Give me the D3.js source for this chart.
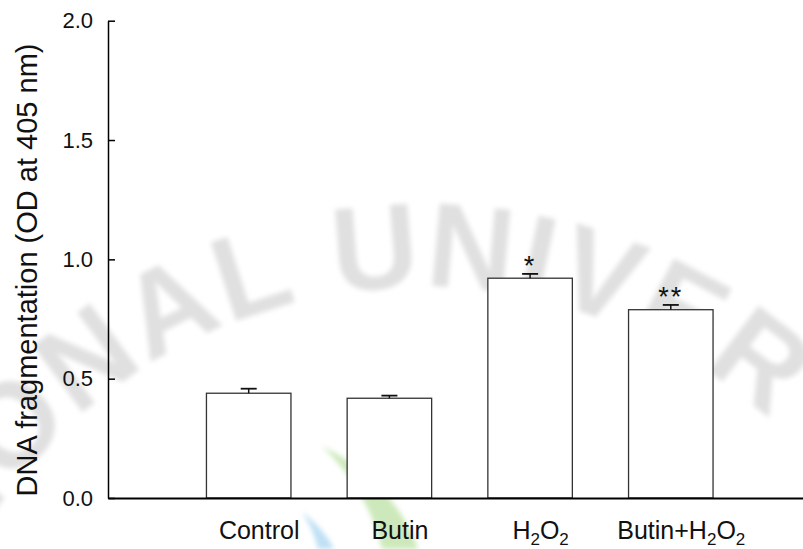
<!DOCTYPE html>
<html><head><meta charset="utf-8">
<script src="https://cdn.jsdelivr.net/npm/d3@7"></script>
<style>body{margin:0;background:#fff}svg{display:block}text{font-family:"Liberation Sans",Arial,sans-serif}</style>
</head><body><svg id="c" width="803" height="549"></svg>
<script>
const categories = ["Control", "Butin", "H2O2", "Butin+H2O2"];
const values = [0.439, 0.418, 0.921, 0.789];
const errors = [0.019, 0.011, 0.018, 0.020];
const marks = ["", "", "*", "**"];
const yTicks = [0, 0.5, 1.0, 1.5, 2.0];
const yLabel = "DNA fragmentation (OD at 405 nm)";
const watermark = "TIONAL  UNIVER";

const svg = d3.select("#c");
const defs = svg.append("defs");
defs.append("filter").attr("id", "blur").append("feGaussianBlur").attr("stdDeviation", 2.5);
const x = d3.scalePoint().domain(categories).range([108, 811.5]).padding(1);
const y = d3.scaleLinear().domain([0, 2]).range([498, 20.7]);
const barW = 84.5;

// watermark
const wm = svg.append("g").attr("filter", "url(#blur)");
defs.append("path").attr("id", "arc").attr("fill", "none")
  .attr("d", "M -70 640 A 520 520 0 0 1 880 560");
wm.append("text").attr("font-size", 120).attr("font-weight", "bold").attr("fill", "#e0e0e0")
  .attr("letter-spacing", 3)
  .append("textPath").attr("href", "#arc").attr("startOffset", 60).text(watermark);
wm.append("path").attr("fill", "#cde9bb")
  .attr("d", "M 322 446 C 372 470 405 510 418 549 L 382 549 C 372 510 355 478 322 446 Z");
wm.append("path").attr("fill", "#bfe0f4")
  .attr("d", "M 302 512 C 318 524 328 537 334 549 L 318 549 C 315 536 310 524 302 512 Z");

// y axis
const ya = svg.append("g").attr("transform", "translate(108,0)")
  .call(d3.axisLeft(y).tickValues(yTicks).tickFormat(d3.format(".1f")).tickSizeInner(-7).tickSizeOuter(0).tickPadding(15));
ya.select(".domain").attr("stroke", "#000").attr("stroke-width", 1.5);
ya.selectAll(".tick line").attr("stroke", "#000").attr("stroke-width", 1.5);
ya.selectAll(".tick text").attr("font-size", 22).attr("fill", "#111").attr("font-family", "Liberation Sans, Arial, sans-serif");

// bars
const g = svg.append("g");
g.selectAll("rect").data(categories).join("rect")
  .attr("x", d => x(d) - barW / 2).attr("width", barW)
  .attr("y", (d, i) => y(values[i])).attr("height", (d, i) => y(0) - y(values[i]))
  .attr("fill", "#fff").attr("stroke", "#333").attr("stroke-width", 1.3);
// error bars
categories.forEach((d, i) => {
  const cx = x(d), y0 = y(values[i]), y1 = y(values[i] + errors[i]);
  g.append("line").attr("x1", cx).attr("x2", cx).attr("y1", y0).attr("y2", y1).attr("stroke", "#111").attr("stroke-width", 1.5);
  g.append("line").attr("x1", cx - 8).attr("x2", cx + 8).attr("y1", y1).attr("y2", y1).attr("stroke", "#111").attr("stroke-width", 1.8);
  if (marks[i]) g.append("text").attr("x", cx).attr("y", y1 + 1).attr("text-anchor", "middle")
    .attr("font-size", 27).attr("letter-spacing", 2).attr("fill", "#111").text(marks[i]);
});

// x axis
const xa = svg.append("g").attr("transform", "translate(0,498)")
  .call(d3.axisBottom(x).tickSize(0));
xa.select(".domain").attr("stroke", "#000").attr("stroke-width", 1.8);
xa.selectAll(".tick text").attr("font-size", 25).attr("fill", "#111")
  .attr("font-family", "Liberation Sans, Arial, sans-serif").attr("dx", 10)
  .attr("y", 41).attr("dy", null)
  .each(function(d) {
    const t = d3.select(this); t.text("");
    let shift = 0;
    d.split(/(2)/).forEach(p => {
      if (p === "") return;
      const s = t.append("tspan").text(p);
      if (p === "2") { s.attr("font-size", 17).attr("dy", 6 - shift); shift = 6; }
      else { if (shift) s.attr("dy", -shift); shift = 0; }
    });
  });

// y label
svg.append("text").attr("transform", "translate(37,270) rotate(-90)")
  .attr("text-anchor", "middle").attr("font-size", 29).attr("fill", "#111").text(yLabel);
</script></body></html>
